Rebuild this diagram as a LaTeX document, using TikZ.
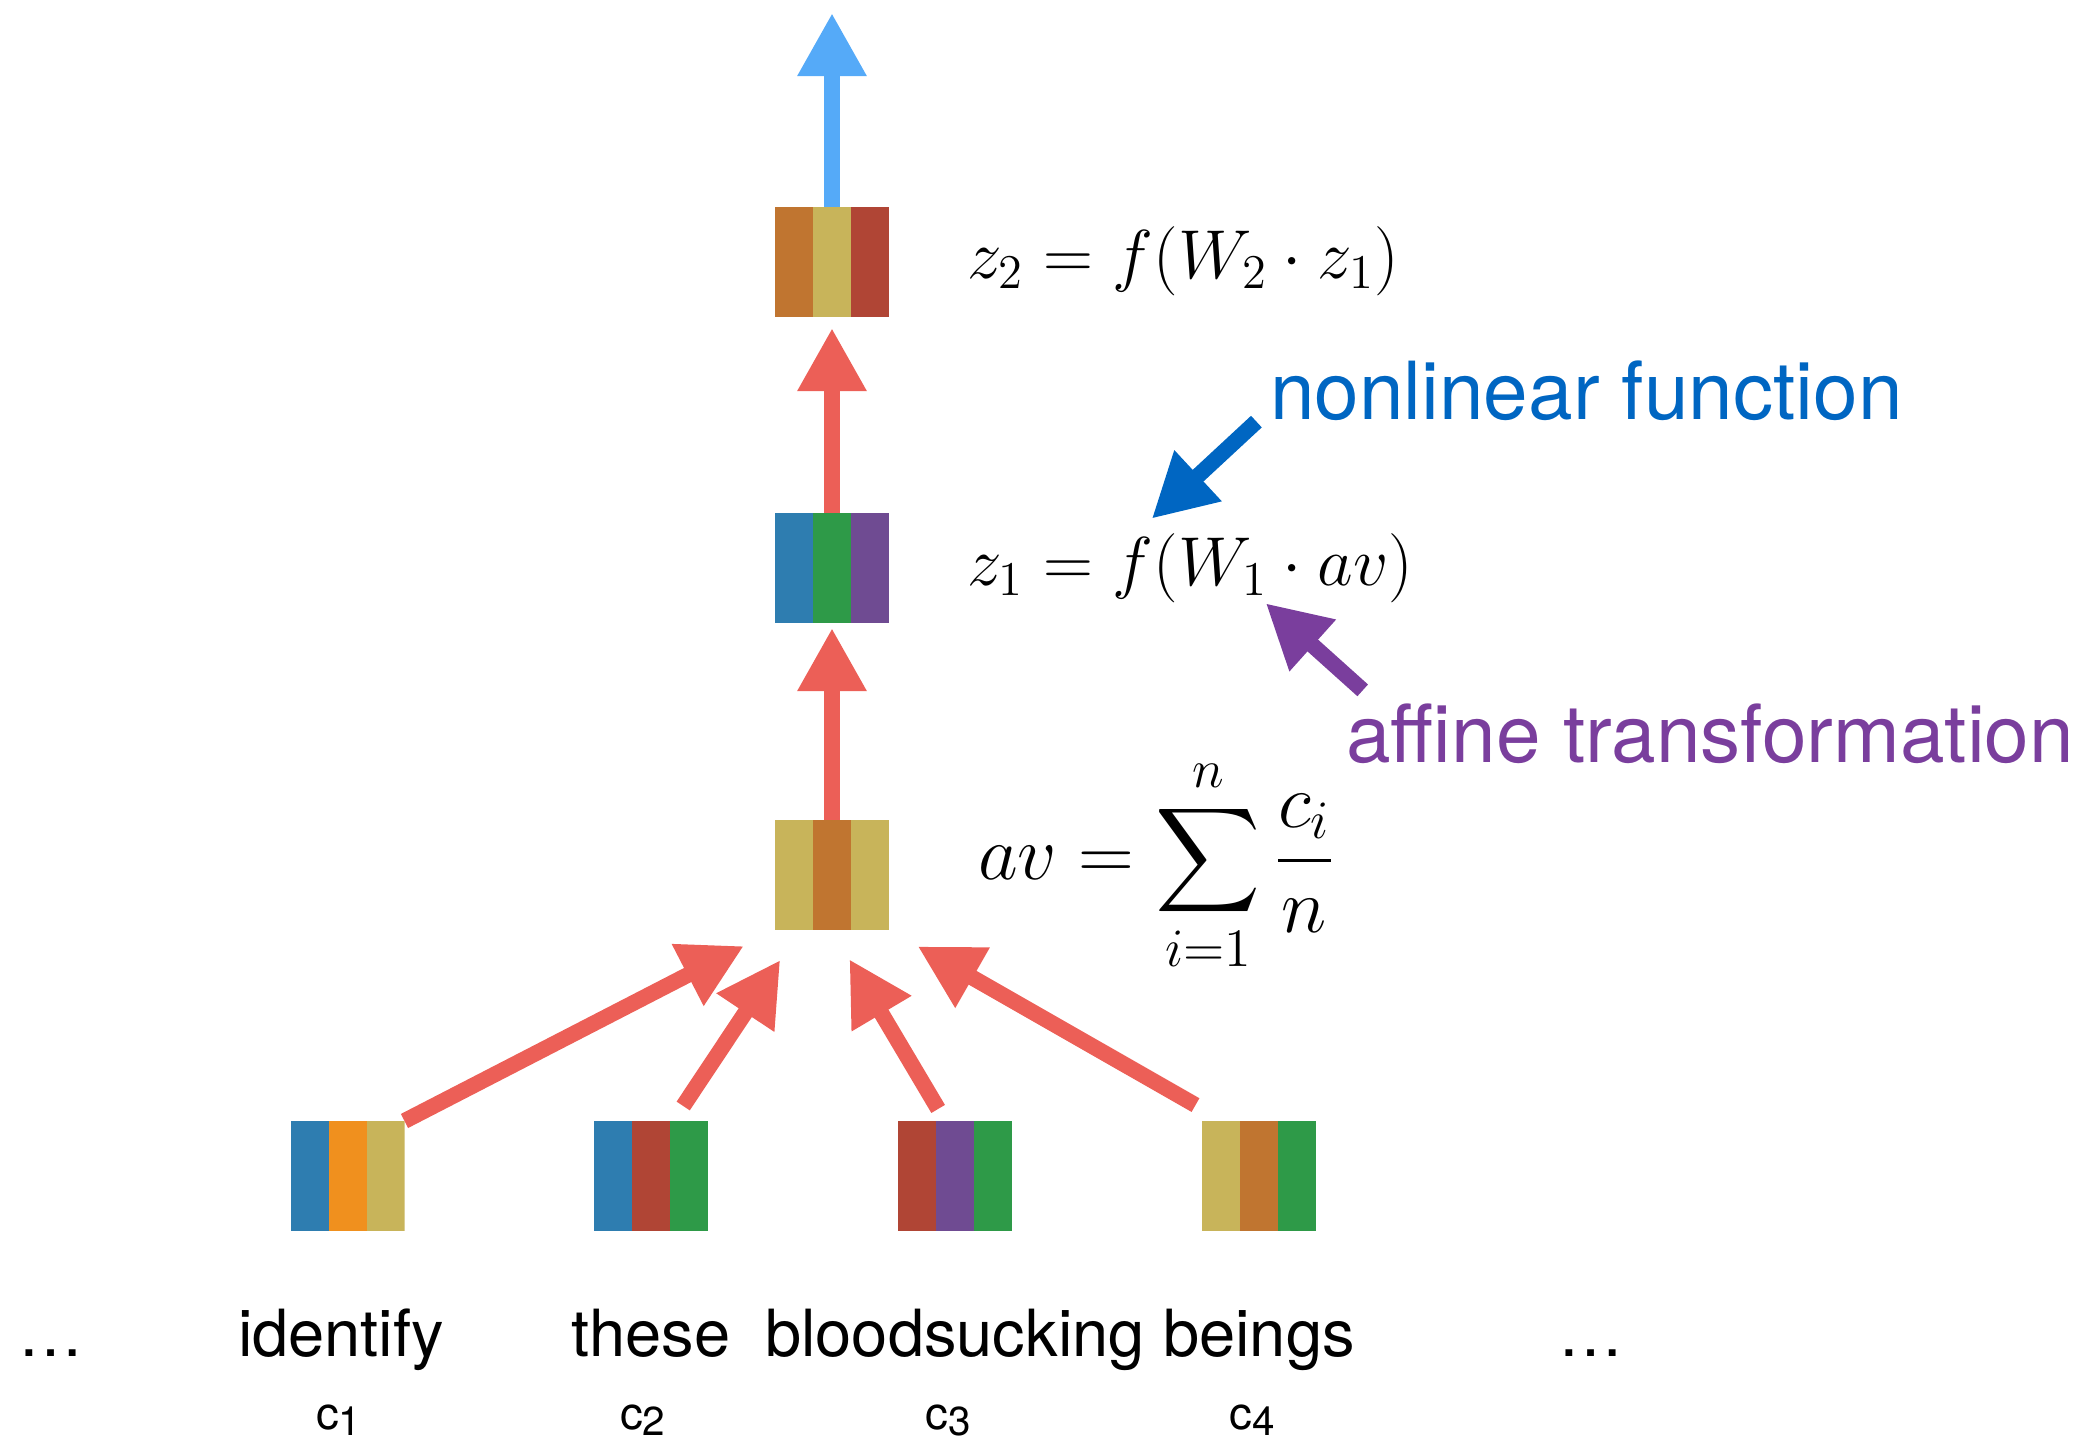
\RequirePackage{fix-cm}
\documentclass[tikz,border=0pt]{standalone}
\usepackage{amsmath}
\usepackage[no-math]{fontspec}
\setmainfont{TeX Gyre Heros}
\usepackage{tikz}
\usetikzlibrary{arrows.meta}

\definecolor{stripeblue}{HTML}{2E7DB0}
\definecolor{stripegreen}{HTML}{2E9A48}
\definecolor{stripepurple}{HTML}{6F4B92}
\definecolor{stripeorange}{HTML}{F0901E}
\definecolor{stripeyellow}{HTML}{C8B45A}
\definecolor{stripebrown}{HTML}{C07530}
\definecolor{stripered}{HTML}{B04535}
\definecolor{arrowred}{HTML}{EC5F57}
\definecolor{arrowblue}{HTML}{55AAF8}
\definecolor{nonlinblue}{HTML}{0066C2}
\definecolor{affinepurple}{HTML}{7A3E9D}

\newcommand{\cvec}[1]{c\raisebox{-0.12em}{\fontsize{11.5}{13}\selectfont #1}}

\begin{document}
\begin{tikzpicture}[
            vec node/.style n args={3}{minimum width=1.14cm, minimum height=1.10cm, inner sep=0pt, outer sep=0pt,
                path picture={
                    \fill[#1] (path picture bounding box.south west) rectangle ++(0.38cm,1.10cm);
                    \fill[#2] ([xshift=0.38cm]path picture bounding box.south west) rectangle ++(0.38cm,1.10cm);
                    \fill[#3] ([xshift=0.76cm]path picture bounding box.south west) rectangle ++(0.38cm,1.10cm);
                }},
            flow/.style={line width=4.5pt, draw=#1, -{Triangle[width=18.5pt,length=18pt]}},
            eq node/.style={anchor=west, inner sep=0pt, font=\fontsize{19.7}{24}\selectfont},
            word node/.style={anchor=base, inner sep=0pt, font=\fontsize{18.5}{22}\selectfont},
            sub node/.style={anchor=base, inner sep=0pt, font=\fontsize{13}{15}\selectfont},
            note node/.style={anchor=west, inner sep=0pt, font=\fontsize{22.8}{27}\selectfont},
            ]
            \useasboundingbox (0,0) rectangle (21.0,14.41);

            \node[vec node={stripebrown}{stripeyellow}{stripered}] (z2) at (8.32, 11.79) {};
            \node[vec node={stripeblue}{stripegreen}{stripepurple}] (z1) at (8.32, 8.73) {};
            \node[vec node={stripeyellow}{stripebrown}{stripeyellow}] (av) at (8.32, 5.66) {};
            \node[vec node={stripeblue}{stripeorange}{stripeyellow}] (c1) at (3.475, 2.65) {};
            \node[vec node={stripeblue}{stripered}{stripegreen}] (c2) at (6.51, 2.65) {};
            \node[vec node={stripered}{stripepurple}{stripegreen}] (c3) at (9.55, 2.65) {};
            \node[vec node={stripeyellow}{stripebrown}{stripegreen}] (c4) at (12.59, 2.65) {};
            \coordinate (out) at (8.32, 14.28);

            \node[eq node] (e2) at (9.667, 11.80) {$z_2 = f(W_2 \cdot z_1)$};
            \node[eq node] (e1) at (9.667, 8.73) {$z_1 = f(W_1 \cdot av)$};
            \node[eq node, font=\fontsize{22}{27}\selectfont] (e0) at (9.775, 5.76) {$\displaystyle av = \sum_{i=1}^{n} \frac{c_i}{n}$};
            \node[note node, text=nonlinblue] (nl) at (12.694, 10.50) {nonlinear function};
            \node[note node, text=affinepurple] (aff) at (13.457, 7.07) {affine transformation};

            \node[word node] (w1) at (3.41, 0.846) {identify};
            \node[word node] (w2) at (6.51, 0.846) {these};
            \node[word node] (w3) at (9.55, 0.846) {bloodsucking};
            \node[word node] (w4) at (12.59, 0.846) {beings};
            \node[word node] (dl) at (0.509, 0.846) {\ldots};
            \node[word node] (dr) at (15.907, 0.846) {\ldots};
            \node[sub node] (s1) at (3.388, 0.11) {\cvec{1}};
            \node[sub node] (s2) at (6.427, 0.11) {\cvec{2}};
            \node[sub node] (s3) at (9.48, 0.11) {\cvec{3}};
            \node[sub node] (s4) at (12.52, 0.11) {\cvec{4}};

            \draw[flow=arrowblue] (z2) -- (out);
            \draw[flow=arrowred, shorten >=0.11cm] (z1) -- (z2);
            \draw[flow=arrowred, shorten >=0.05cm] (av) -- (z1);
            \draw[flow=arrowred, shorten >=0.35cm] (c1.north east) -- (av.south west);
            \draw[flow=arrowred, shorten <=0.18cm, shorten >=0.36cm] (c2.68) -- (av.240);
            \draw[flow=arrowred, shorten <=0.14cm, shorten >=0.34cm] (c3.100) -- (av.south);
            \draw[flow=arrowred, shorten <=0.32cm, shorten >=0.33cm] (c4.123) -- (av.south east);
            \draw[flow=nonlinblue] ([xshift=-0.13cm]nl.south west) -- ([xshift=1.85cm,yshift=0.14cm]e1.north west);
            \draw[flow=affinepurple] ([xshift=0.17cm,yshift=0.13cm]aff.north west) -- ([xshift=2.99cm]e1.south west);
\end{tikzpicture}
\end{document}
